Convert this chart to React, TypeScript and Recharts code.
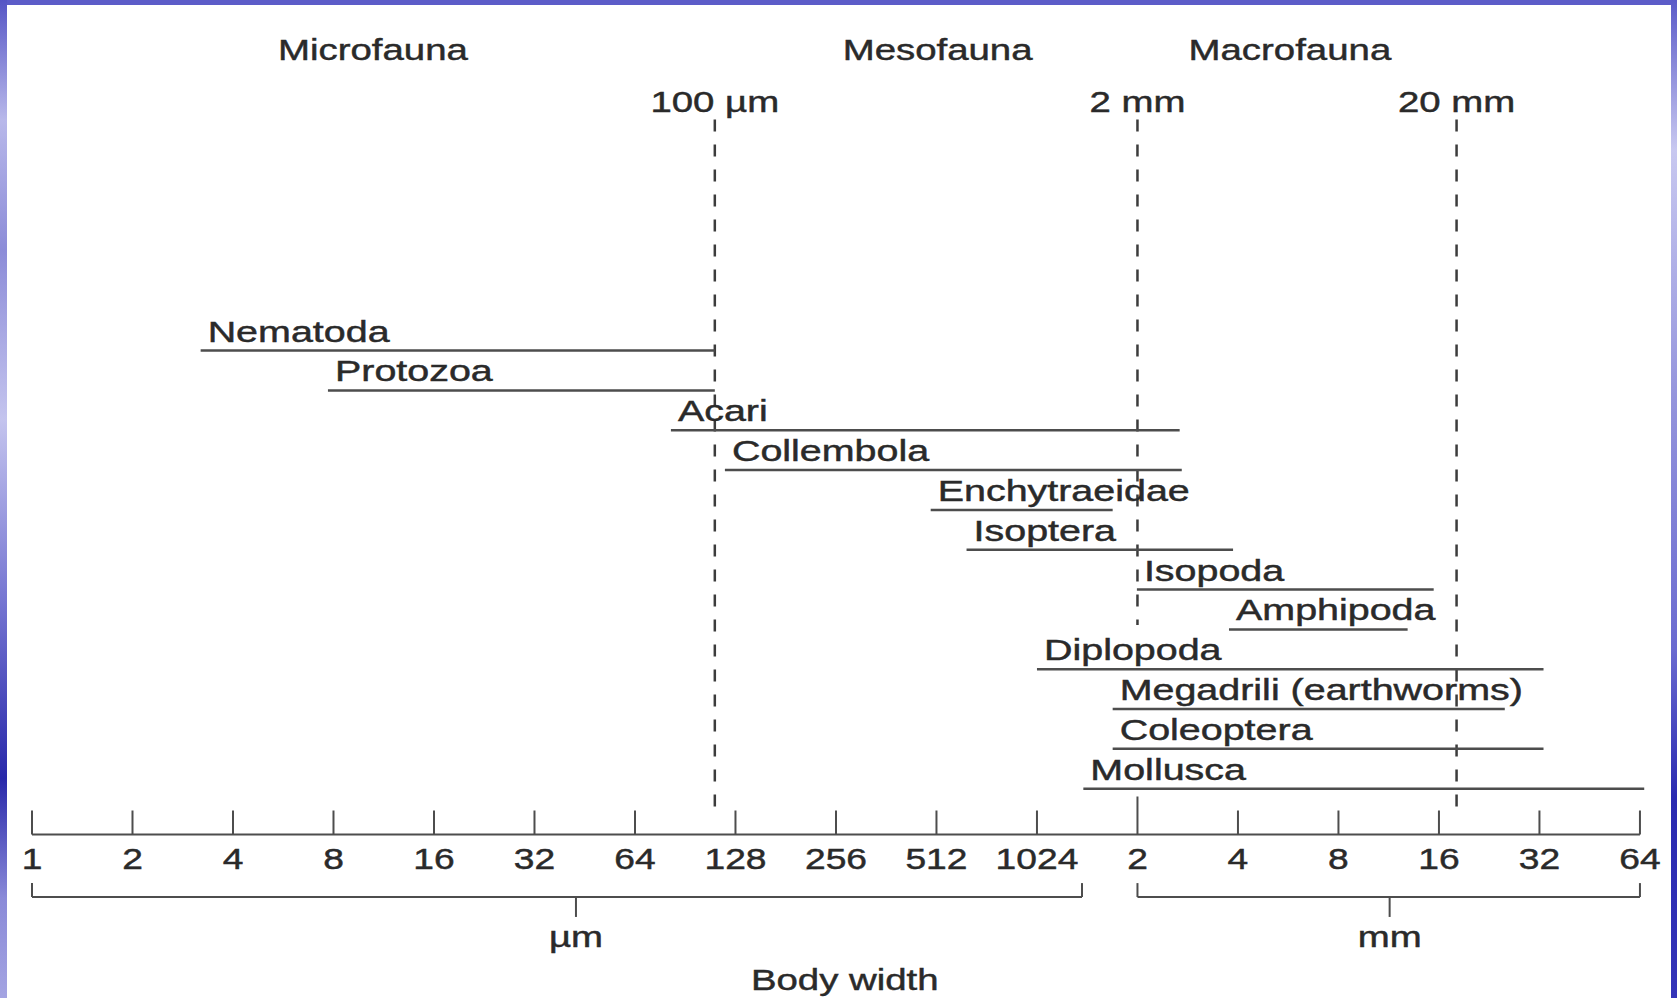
import React from "react";
import { ScatterChart, Scatter, XAxis, YAxis, ReferenceLine, ReferenceDot } from "recharts";

// body width ranges, in µm
const taxa = [
  "Nematoda",
  "Protozoa",
  "Acari",
  "Collembola",
  "Enchytraeidae",
  "Isoptera",
  "Isopoda",
  "Amphipoda",
  "Diplopoda",
  "Megadrili (earthworms)",
  "Coleoptera",
  "Mollusca",
];
const minWidth = [3.2, 7.7, 82, 119, 492, 630, 2040, 3850, 1024, 1726, 1726, 1410];
const maxWidth = [111, 111, 2740, 2780, 1726, 3960, 15800, 13200, 33700, 25800, 33700, 67500];

const tickValues = [1, 2, 4, 8, 16, 32, 64, 128, 256, 512, 1024, 2048, 4096, 8192, 16384, 32768, 65536];
const tickLabels = ["1", "2", "4", "8", "16", "32", "64", "128", "256", "512", "1024", "2", "4", "8", "16", "32", "64"];

// size-class boundaries
const boundaryLabels = ["100 µm", "2 mm", "20 mm"];
const boundaryValues = [111, 2048, 18500];
const boundaryBottoms = [11.46, 6.89, 11.48];

const zoneLabels = ["Microfauna", "Mesofauna", "Macrofauna"];
const zoneCenters = [10.5, 516, 5860];

// unit brackets under the axis
const unitLabels = ["µm", "mm"];
const unitFrom = [1, 2048];
const unitTo = [1397, 65536];
const unitCenter = [42.6, 11660];

const FONT = "'Liberation Sans', Arial, Helvetica, sans-serif";
const INK = "#2a2a2a";
const LINE = "#4d4d4d";

const Y_TOP = -8.3;
const Y_AXIS = 12.15;
const DASH_TOP = -5.8;
const HEAD_Y = -7.3;
const BRACKET_Y = 13.72;
const BRACKET_END = 13.37;
const BRACKET_TICK = 14.22;

function Stretch({ x, y, text, size = 30, sx = 1.28, anchor = "middle" }: any) {
  return (
    <text
      transform={`translate(${x},${y}) scale(${sx},1)`}
      textAnchor={anchor}
      fontSize={size}
      fontFamily={FONT}
      fill={INK}
      stroke={INK}
      strokeWidth={0.45}
    >
      {text}
    </text>
  );
}

function AxisTick(props: any) {
  const { x, y, payload } = props;
  const idx = tickValues.indexOf(payload.value);
  const tall = payload.value === 2048;
  return (
    <g>
      <line x1={x} x2={x} y1={y - (tall ? 38 : 24)} y2={y} stroke={LINE} strokeWidth={2} />
      <Stretch x={x} y={y + 34} text={tickLabels[idx]} sx={1.24} />
    </g>
  );
}

function TaxonShape(props: any) {
  const { cx, cy, payload } = props;
  if (!payload || !payload.start) return <g />;
  return <Stretch x={cx + 7} y={cy - 9} text={payload.name} size={29} sx={1.36} anchor="start" />;
}

export default function App() {
  const series = taxa.map((name, i) => [
    { x: minWidth[i], y: i, name, start: true },
    { x: maxWidth[i], y: i, name, start: false },
  ]);

  const leftBorder =
    "linear-gradient(to bottom, #5555c5 0%, #b8b8ea 12%, #8c8cd8 25%, #c4c4ee 42%, #7676d2 60%, #2828aa 78%, #8a8ad8 90%, #a4a4e2 100%)";
  const rightBorder =
    "linear-gradient(to bottom, #5a5ac8 0%, #c8c8f0 15%, #9494dc 40%, #6a6ad0 65%, #2a2ab0 80%, #3434b8 100%)";

  return (
    <div style={{ position: "absolute", left: 0, top: 0, width: 1677, height: 998, background: "#fff", overflow: "hidden" }}>
      <div style={{ position: "absolute", left: 0, top: 0, width: 1677, height: 5, background: "#5c5cc8" }} />
      <div style={{ position: "absolute", left: 0, top: 0, width: 7, height: 998, background: leftBorder }} />
      <div style={{ position: "absolute", left: 1671, top: 0, width: 6, height: 998, background: rightBorder }} />
      <div style={{ position: "absolute", left: 0, top: 0 }}>
        <ScatterChart
          width={1677}
          height={998}
          margin={{ top: 20, right: 27.5, bottom: 3, left: 32 }}
          style={{ fontFamily: FONT }}
        >
          <XAxis
            dataKey="x"
            type="number"
            scale="log"
            domain={[1, 70000]}
            ticks={tickValues}
            interval={0}
            tick={<AxisTick />}
            tickLine={false}
            axisLine={false}
            tickSize={0}
            tickMargin={0}
            height={160.5}
            label={(p: any) => {
              const vb = p.viewBox;
              return <Stretch x={vb.x + vb.width / 2 + 4} y={vb.y + 155.5} text="Body width" />;
            }}
          />
          <YAxis dataKey="y" type="number" domain={[Y_TOP, Y_AXIS]} reversed hide />

          {/* axis baseline */}
          <ReferenceLine
            segment={[{ x: 1, y: Y_AXIS }, { x: 65536, y: Y_AXIS }]}
            stroke={LINE}
            strokeWidth={2}
            ifOverflow="visible"
          />

          {boundaryValues.map((v, i) => (
            <ReferenceLine
              key={boundaryLabels[i]}
              segment={[{ x: v, y: DASH_TOP }, { x: v, y: boundaryBottoms[i] }]}
              stroke="#3c3c3c"
              strokeWidth={2.5}
              strokeDasharray="12 13"
              ifOverflow="visible"
              label={(p: any) => <Stretch x={p.viewBox.x} y={p.viewBox.y - 8} text={boundaryLabels[i]} />}
            />
          ))}

          {zoneLabels.map((z, i) => (
            <ReferenceDot
              key={z}
              x={zoneCenters[i]}
              y={HEAD_Y}
              r={0}
              shape={() => <g />}
              label={(p: any) => <Stretch x={p.viewBox.x + (p.viewBox.width || 0) / 2} y={p.viewBox.y + (p.viewBox.height || 0) / 2} text={z} />}
            />
          ))}

          {unitLabels.map((u, i) => (
            <React.Fragment key={u}>
              <ReferenceLine
                segment={[{ x: unitFrom[i], y: BRACKET_Y }, { x: unitTo[i], y: BRACKET_Y }]}
                stroke={LINE}
                strokeWidth={2}
                ifOverflow="visible"
              />
              <ReferenceLine
                segment={[{ x: unitFrom[i], y: BRACKET_END }, { x: unitFrom[i], y: BRACKET_Y }]}
                stroke={LINE}
                strokeWidth={2}
                ifOverflow="visible"
              />
              <ReferenceLine
                segment={[{ x: unitTo[i], y: BRACKET_END }, { x: unitTo[i], y: BRACKET_Y }]}
                stroke={LINE}
                strokeWidth={2}
                ifOverflow="visible"
              />
              <ReferenceLine
                segment={[{ x: unitCenter[i], y: BRACKET_Y }, { x: unitCenter[i], y: BRACKET_TICK }]}
                stroke={LINE}
                strokeWidth={2}
                ifOverflow="visible"
                label={(p: any) => (
                  <Stretch x={p.viewBox.x} y={p.viewBox.y + (p.viewBox.height || 0) + 30} text={u} />
                )}
              />
            </React.Fragment>
          ))}

          {series.map((data, i) => (
            <Scatter
              key={taxa[i]}
              name={taxa[i]}
              data={data}
              line={{ stroke: LINE, strokeWidth: 2.5 }}
              lineType="joint"
              shape={<TaxonShape />}
              isAnimationActive={false}
            />
          ))}
        </ScatterChart>
      </div>
    </div>
  );
}
